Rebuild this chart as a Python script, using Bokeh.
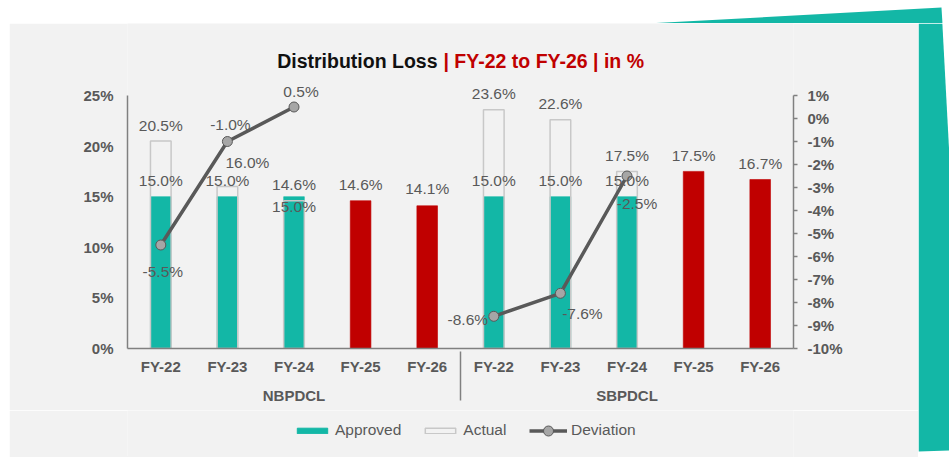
from bokeh.plotting import figure
from bokeh.layouts import column, row
from bokeh.models import (FactorRange, Range1d, LinearAxis, FixedTicker, PrintfTickFormatter,
                          ColumnDataSource, Legend, LegendItem, Label)
from bokeh.core.properties import value
from bokeh.embed import file_html
from bokeh.resources import INLINE

# ---------------- data ----------------
groups = ["NBPDCL", "SBPDCL"]
years = ["FY-22", "FY-23", "FY-24", "FY-25", "FY-26"]
approved = [15.0, 15.0, 15.0, 14.6, 14.1, 15.0, 15.0, 15.0, 17.5, 16.7]
actual = [20.5, 16.0, 14.6, None, None, 23.6, 22.6, 17.5, None, None]
deviation = [-5.5, -1.0, 0.5, None, None, -8.6, -7.6, -2.5, None, None]
projected = [False, False, False, True, True, False, False, False, True, True]
left_ticks = [0, 5, 10, 15, 20, 25]
right_ticks = [-10, -9, -8, -7, -6, -5, -4, -3, -2, -1, 0, 1]
title_main = "Distribution Loss"
title_sub = "| FY-22 to FY-26 | in %"
series_names = ["Approved", "Actual", "Deviation"]

# ---------------- styles / layout ----------------
TEAL = "#13b7a6"
RED = "#c00000"
PANEL = "#f2f2f2"
GREY_TXT = "#595959"
AXIS = "#808080"
OUTLINE = "#c8c8c8"
LINE_C = "#595959"
MARK_C = "#a6a6a6"
FONT = "Liberation Sans"
TOTAL_W, TOTAL_H = 949, 457
TOP_H = 23            # white strip above the grey panel
LEFT_W = 9            # white strip left of the grey panel
RIGHT_W = 31          # teal strip on the right
MAIN_W = TOTAL_W - LEFT_W - RIGHT_W
MAIN_H = TOTAL_H - TOP_H
PLOT_L, PLOT_R = 127, 793   # plot area (page pixels)
PLOT_T, PLOT_B = 95, 348
FB = PLOT_L - LEFT_W        # left border of main figure
FW = PLOT_R - PLOT_L
FH = PLOT_B - TOP_H         # frame reaches up to the top of the grey panel
AXIS_H = 62                 # room for the category axis below the frame
LEG_H = MAIN_H - FH - AXIS_H
BAR_W = 0.31
FS_LABEL = "15.5px"
FS_AXIS = "15px"

# label offsets in screen pixels (dx, dy; dy positive = down)
approved_off = [(0, -16), (0, -16), (0, 10), (0, -16), (0, -17),
                (0, -16), (0, -16), (0, -16), (0, -16), (0, -16)]
actual_off = [(0, -16), (20, -24), (0, -16), None, None,
              (0, -16), (0, -16), (0, -16), None, None]
dev_off = [(2, 26), (3, -17), (7, -16), None, None,
           (-26, 3), (22, 20), (10, 27), None, None]

factors = [(g, y) for g in groups for y in years]
nan = float("nan")


def num(v):
    return nan if v is None else v


# value ranges extended upward so that the frame also holds the title
scale_l = (PLOT_B - PLOT_T) / (left_ticks[-1] - left_ticks[0])
scale_r = (PLOT_B - PLOT_T) / (right_ticks[-1] - right_ticks[0])
y_end_l = left_ticks[0] + FH / scale_l
y_end_r = right_ticks[0] + FH / scale_r


def deco_fig(w, h, bg="white", flip=True):
    f = figure(width=w, height=h, x_range=Range1d(0, w),
               y_range=Range1d(h, 0) if flip else Range1d(0, h),
               output_backend="svg", toolbar_location=None, min_border=0,
               x_axis_location=None, y_axis_location=None,
               background_fill_color=bg, border_fill_color=bg,
               outline_line_color=None)
    f.grid.visible = False
    return f


# ---------------- decoration figures ----------------
top = deco_fig(TOTAL_W, TOP_H)
top.patch(x=[628, 941, 942, 628], y=[TOP_H + 1, 7, TOP_H + 1, TOP_H + 1],
          fill_color=TEAL, line_color=None)

left = deco_fig(LEFT_W, MAIN_H)
left.patch(x=[0, 0.1, 0.1], y=[0, 0, 0.1], fill_color="white", line_color=None)

right = deco_fig(RIGHT_W, MAIN_H)
right.patch(x=[0, 23.85, 31, 31, 0], y=[0, 0, 134, 427, 428],
            fill_color=TEAL, line_color=None)

# ---------------- main chart ----------------
p = figure(frame_width=FW, frame_height=FH,
           x_range=FactorRange(*factors, group_padding=0, factor_padding=0, range_padding=0),
           y_range=Range1d(left_ticks[0], y_end_l),
           output_backend="svg", toolbar_location=None,
           min_border_left=FB, min_border_top=0,
           min_border_right=MAIN_W - FB - FW, min_border_bottom=AXIS_H,
           background_fill_color=PANEL, border_fill_color=PANEL,
           outline_line_color=None)
p.extra_y_ranges = {"dev": Range1d(right_ticks[0], y_end_r)}
p.grid.visible = False

src = ColumnDataSource(dict(
    x=factors,
    approved=approved,
    actual=[num(v) for v in actual],
    dev=[num(v) for v in deviation],
    color=[RED if pr else TEAL for pr in projected],
))
p.vbar(x="x", top="approved", width=BAR_W, source=src,
       fill_color="color", line_color="color", line_alpha=0.6)
p.vbar(x="x", top="actual", width=BAR_W, source=src,
       fill_color=None, line_color=OUTLINE, line_width=1.5)
p.line(x="x", y="dev", source=src, y_range_name="dev",
       line_color=LINE_C, line_width=3.5)
p.scatter(x="x", y="dev", source=src, y_range_name="dev", size=10,
          fill_color=MARK_C, line_color=LINE_C, line_width=1)


def add_labels(vals, offs, range_name="default"):
    xs, ys, ts, dxs, dys = [], [], [], [], []
    for f, v, o in zip(factors, vals, offs):
        if v is None:
            continue
        xs.append(f); ys.append(v); ts.append(f"{v:.1f}%")
        dxs.append(o[0]); dys.append(o[1])
    s = ColumnDataSource(dict(x=xs, y=ys, t=ts, dx=dxs, dy=dys))
    p.text(x="x", y="y", text="t", x_offset="dx", y_offset="dy", source=s,
           y_range_name=range_name, text_align="center", text_baseline="middle",
           text_font=value(FONT), text_font_size=value(FS_LABEL), text_color=GREY_TXT)


add_labels(approved, approved_off)
add_labels(actual, actual_off)
add_labels(deviation, dev_off, "dev")

# axes
xa = p.xaxis[0]
xa.axis_line_color = AXIS
xa.axis_line_width = 1.5
xa.major_tick_line_color = None
xa.major_tick_out = 0
xa.major_tick_in = 0
xa.minor_tick_line_color = None
xa.major_label_text_font = FONT
xa.major_label_text_font_size = FS_AXIS
xa.major_label_text_font_style = "bold"
xa.major_label_text_color = GREY_TXT
xa.group_text_font = FONT
xa.group_text_font_size = FS_AXIS
xa.group_text_font_style = "bold"
xa.group_text_color = GREY_TXT
xa.separator_line_color = AXIS
xa.separator_line_width = 1.5
xa.major_label_standoff = 9

ya = p.yaxis[0]
ya.ticker = FixedTicker(ticks=left_ticks)
ya.formatter = PrintfTickFormatter(format="%d%%")
ya.bounds = (left_ticks[0], left_ticks[-1])
ya.axis_line_color = AXIS
ya.axis_line_width = 1.5
ya.major_tick_line_color = None
ya.major_tick_out = 0
ya.minor_tick_line_color = None
ya.major_label_standoff = 14
ya.major_label_text_font = FONT
ya.major_label_text_font_size = FS_AXIS
ya.major_label_text_font_style = "bold"
ya.major_label_text_color = GREY_TXT

ra = LinearAxis(y_range_name="dev", ticker=FixedTicker(ticks=right_ticks),
                formatter=PrintfTickFormatter(format="%d%%"),
                bounds=(right_ticks[0], right_ticks[-1]))
ra.axis_line_color = AXIS
ra.axis_line_width = 1.5
ra.major_tick_line_color = AXIS
ra.major_tick_line_width = 1.5
ra.major_tick_in = 0
ra.major_tick_out = 4
ra.minor_tick_line_color = None
ra.major_label_standoff = 10
ra.major_label_text_font = FONT
ra.major_label_text_font_size = FS_AXIS
ra.major_label_text_font_style = "bold"
ra.major_label_text_color = GREY_TXT
p.add_layout(ra, "right")

# title (inside the frame, screen units relative to the frame's bottom-left)
TITLE_Y = PLOT_B - 60
p.add_layout(Label(x=437 - PLOT_L, y=TITLE_Y, x_units="screen", y_units="screen", text=title_main,
                   text_align="right", text_baseline="middle", text_font=FONT,
                   text_font_size="19.5px", text_font_style="bold", text_color="#111111"))
p.add_layout(Label(x=443 - PLOT_L, y=TITLE_Y, x_units="screen", y_units="screen", text=title_sub,
                   text_align="left", text_baseline="middle", text_font=FONT,
                   text_font_size="19.5px", text_font_style="bold", text_color=RED))

# ---------------- legend strip (own figure under the chart) ----------------
# its frame is aligned with the chart frame by the column layout
lg = deco_fig(MAIN_W, LEG_H, bg=PANEL, flip=False)
OFF = -100   # legend key glyphs sit outside the visible strip
k_app = lg.vbar(x=[OFF], top=[0], width=1, fill_color=TEAL, line_color=TEAL)
k_act = lg.vbar(x=[OFF], top=[0], width=1, fill_color=None, line_color=OUTLINE, line_width=1.5)
k_line = lg.line(x=[OFF, OFF - 1], y=[0, 0], line_color=LINE_C, line_width=3.5)
k_pts = lg.scatter(x=[OFF], y=[0], size=10, fill_color=MARK_C, line_color=LINE_C, line_width=1)

LEG_MID = LEG_H - (430 - (TOP_H + FH + AXIS_H))   # legend centre, from the strip bottom
common = dict(orientation="horizontal", padding=0, margin=0, border_line_color=None,
              background_fill_alpha=0, label_text_font=FONT, label_text_font_size=FS_LABEL,
              label_text_color=GREY_TXT, label_standoff=4, spacing=20, glyph_width=38)
leg1 = Legend(items=[LegendItem(label=series_names[0], renderers=[k_app], index=0),
                     LegendItem(label=series_names[1], renderers=[k_act], index=0)],
              location=(293 - PLOT_L, LEG_MID - 9), glyph_height=7, label_height=18, **common)
leg2 = Legend(items=[LegendItem(label=series_names[2], renderers=[k_line, k_pts], index=0)],
              location=(529 - PLOT_L, LEG_MID - 12.5), glyph_height=25, label_height=25, **common)
lg.add_layout(leg1)
lg.add_layout(leg2)

layout = column(top, row(left, column(p, lg, spacing=0), right, spacing=0), spacing=0)
open("out.html", "w").write(file_html(layout, INLINE))
